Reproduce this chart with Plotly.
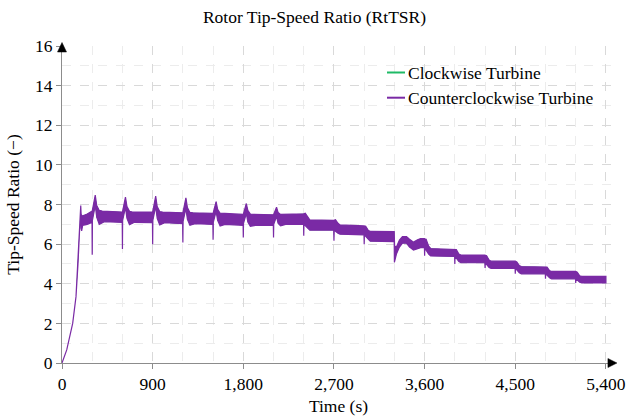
import plotly.graph_objects as go

# ---------------- data ----------------
# Upper envelope of the oscillating tip-speed-ratio band
t_upper = [0, 47, 106, 139, 159, 166, 176, 186, 190, 200, 250, 298,
           300, 330, 345, 370, 400, 598,
           600, 630, 645, 670, 700, 898,
           900, 930, 945, 970, 1000, 1198,
           1200, 1230, 1245, 1270, 1300, 1498,
           1500, 1530, 1545, 1570, 1600, 1798,
           1800, 1830, 1845, 1870, 1900, 2098,
           2100, 2130, 2145, 2170, 2200, 2398,
           2400, 2415, 2440, 2460, 2698,
           2700, 2715, 2740, 2760, 2998,
           3000, 3015, 3040, 3060, 3298,
           3302, 3320, 3350, 3380, 3420, 3450, 3490, 3530, 3560, 3598,
           3600, 3615, 3640, 3660, 3898,
           3900, 3915, 3940, 3960, 4198,
           4200, 4215, 4240, 4260, 4498,
           4500, 4515, 4540, 4560, 4798,
           4800, 4815, 4840, 4860, 5098,
           5100, 5115, 5140, 5160, 5400]
v_upper = [0, 0.66, 2.0, 3.35, 5.03, 6.04, 7.0, 7.95, 7.5, 7.42, 7.52, 7.67,
           7.67, 8.47, 7.95, 7.7, 7.67, 7.62,
           7.62, 8.37, 7.9, 7.66, 7.62, 7.62,
           7.62, 8.42, 7.9, 7.64, 7.62, 7.58,
           7.58, 8.33, 7.85, 7.6, 7.58, 7.55,
           7.55, 8.15, 7.75, 7.56, 7.55, 7.5,
           7.5, 8.05, 7.7, 7.52, 7.5, 7.48,
           7.48, 7.86, 7.6, 7.5, 7.5, 7.53,
           7.53, 7.56, 7.35, 7.22, 7.2,
           7.2, 7.23, 7.05, 6.97, 6.92,
           6.92, 6.9, 6.7, 6.64, 6.63,
           5.9, 5.85, 6.2, 6.38, 6.38, 6.25, 6.1, 6.22, 6.28, 6.28,
           6.27, 6.25, 5.9, 5.78, 5.75,
           5.75, 5.72, 5.5, 5.45, 5.45,
           5.45, 5.42, 5.2, 5.14, 5.14,
           5.14, 5.1, 4.92, 4.87, 4.87,
           4.87, 4.84, 4.66, 4.62, 4.62,
           4.62, 4.58, 4.4, 4.37, 4.37]

# Lower envelope of the band (including the short downward spikes)
t_lower = [0, 47, 106, 139, 159, 166, 176, 186, 189, 195, 205, 250, 298,
           300, 302, 330, 345, 370, 420, 598,
           600, 602, 630, 645, 670, 720, 898,
           900, 902, 930, 945, 970, 1020, 1198,
           1200, 1202, 1230, 1245, 1270, 1320, 1498,
           1500, 1502, 1530, 1545, 1570, 1620, 1798,
           1800, 1802, 1830, 1845, 1870, 1920, 2098,
           2100, 2102, 2130, 2145, 2170, 2220, 2398,
           2400, 2402, 2440, 2460, 2698,
           2700, 2702, 2740, 2760, 2998,
           3000, 3002, 3040, 3060, 3298,
           3300, 3320, 3350, 3380, 3420, 3450, 3490, 3530, 3560, 3598,
           3600, 3602, 3640, 3660, 3898,
           3900, 3902, 3940, 3960, 4198,
           4200, 4202, 4240, 4260, 4498,
           4500, 4502, 4540, 4560, 4798,
           4800, 4802, 4840, 4860, 5098,
           5100, 5102, 5140, 5160, 5400]
v_lower = [0, 0.66, 2.0, 3.35, 5.03, 6.04, 7.0, 7.95, 6.8, 6.67, 6.95, 7.0, 7.1,
           5.47, 7.2, 7.95, 7.35, 7.0, 7.13, 7.1,
           5.75, 7.2, 7.85, 7.3, 6.98, 7.1, 7.08,
           6.0, 7.2, 7.9, 7.3, 6.97, 7.08, 7.03,
           6.08, 7.15, 7.8, 7.25, 6.95, 7.03, 7.0,
           6.22, 7.1, 7.65, 7.2, 6.92, 7.0, 6.95,
           6.33, 7.05, 7.55, 7.12, 6.9, 6.95, 6.95,
           6.33, 7.0, 7.4, 7.05, 6.92, 7.0, 7.0,
           6.42, 7.0, 6.8, 6.7, 6.7,
           6.17, 6.7, 6.55, 6.5, 6.47,
           6.0, 6.47, 6.25, 6.15, 6.13,
           5.08, 5.5, 5.85, 6.05, 6.05, 5.85, 5.7, 5.78, 5.82, 5.82,
           5.42, 5.8, 5.5, 5.4, 5.38,
           5.0, 5.38, 5.12, 5.06, 5.06,
           4.8, 5.06, 4.82, 4.78, 4.78,
           4.5, 4.78, 4.55, 4.5, 4.5,
           4.25, 4.5, 4.3, 4.25, 4.25,
           4.04, 4.25, 4.08, 4.04, 4.04]

series_names = ["Clockwise Turbine", "Counterclockwise Turbine"]
series_colors = ["#1fba66", "#7a2aa5"]
x_ticks = [0, 900, 1800, 2700, 3600, 4500, 5400]
y_ticks = [0, 2, 4, 6, 8, 10, 12, 14, 16]

# ---------------- figure ----------------
FONT = "'Liberation Serif', 'Times New Roman', Times, 'DejaVu Serif', serif"
FS = 17.5

fig = go.Figure()
poly_x = t_upper + t_lower[::-1]
poly_y = v_upper + v_lower[::-1]
for i, (name, col) in enumerate(zip(series_names, series_colors)):
    # the clockwise series is fully covered by the counter-clockwise one
    fig.add_trace(go.Scatter(
        x=poly_x, y=poly_y, name=name, mode="lines",
        fill="toself", fillcolor=col,
        line=dict(color=col, width=1.2 if i == 1 else 0),
        showlegend=False, hoverinfo="skip"))

W, H = 629, 416
L, R, T, B = 62, 14, 46, 53
pw = W - L - R
ph = H - T - B
x_max = 5490


def px_x(px):
    return (px - L) / pw


def px_y(py):
    return (H - B - py) / ph


shapes = []
annotations = []
# manual legend
for i, (name, col) in enumerate(zip(series_names, series_colors)):
    py = 72.5 + i * 25.2
    shapes.append(dict(type="line", xref="paper", yref="paper",
                       x0=px_x(387), x1=px_x(405), y0=px_y(py), y1=px_y(py),
                       line=dict(color=col, width=2)))
    annotations.append(dict(xref="paper", yref="paper", x=px_x(406), y=px_y(py),
                            text=name, showarrow=False, xanchor="left",
                            yanchor="middle", font=dict(family=FONT, size=FS, color="black")))

# axis arrowheads (pixel-sized triangles anchored at the axis ends, paper refs => not clipped)
shapes.append(dict(type="path", xref="paper", yref="paper", xsizemode="pixel", ysizemode="pixel",
                   xanchor=0, yanchor=1, path="M-4.5,-6 L4.5,-6 L0,3.5 Z",
                   fillcolor="black", line=dict(color="black", width=0.5), layer="above"))
shapes.append(dict(type="path", xref="paper", yref="paper", xsizemode="pixel", ysizemode="pixel",
                   xanchor=5400 / x_max, yanchor=0, path="M2,-4.5 L2,4.5 L11,0 Z",
                   fillcolor="black", line=dict(color="black", width=0.5), layer="above"))

fig.update_layout(
    width=W, height=H,
    margin=dict(l=L, r=R, t=T, b=B, pad=0),
    paper_bgcolor="white", plot_bgcolor="white",
    font=dict(family=FONT, size=FS, color="black"),
    title=dict(text="Rotor Tip-Speed Ratio (RtTSR)", x=0.5, xref="container",
               y=1 - 17 / H, yref="container", yanchor="middle", xanchor="center",
               font=dict(family=FONT, size=FS, color="black")),
    showlegend=False,
    shapes=shapes, annotations=annotations,
    xaxis=dict(range=[0, x_max], tickvals=x_ticks, tickformat=",d",
               showline=True, linecolor="#8c8c8c", linewidth=1.2,
               ticks="outside", ticklen=5, tickcolor="#8c8c8c",
               showgrid=True, gridcolor="#d9d9d9", griddash="dash", gridwidth=1,
               zeroline=False, automargin=False,
               minor=dict(tickvals=list(range(300, 5401, 300)), showgrid=True,
                          gridcolor="#ececec", griddash="dash", ticks=""),
               title=dict(text="Time (s)", standoff=6,
                          font=dict(family=FONT, size=FS, color="black"))),
    yaxis=dict(range=[0, 16], tickvals=y_ticks,
               showline=True, linecolor="#8c8c8c", linewidth=1.2,
               ticks="outside", ticklen=5, tickcolor="#8c8c8c",
               showgrid=True, gridcolor="#d9d9d9", griddash="dash", gridwidth=1,
               zeroline=False, automargin=False,
               minor=dict(dtick=1, tick0=0, showgrid=True,
                          gridcolor="#ececec", griddash="dash", ticks=""),
               title=dict(text="Tip-Speed Ratio (\u2212)", standoff=10,
                          font=dict(family=FONT, size=FS, color="black"))),
)

fig.write_html("out.html")
